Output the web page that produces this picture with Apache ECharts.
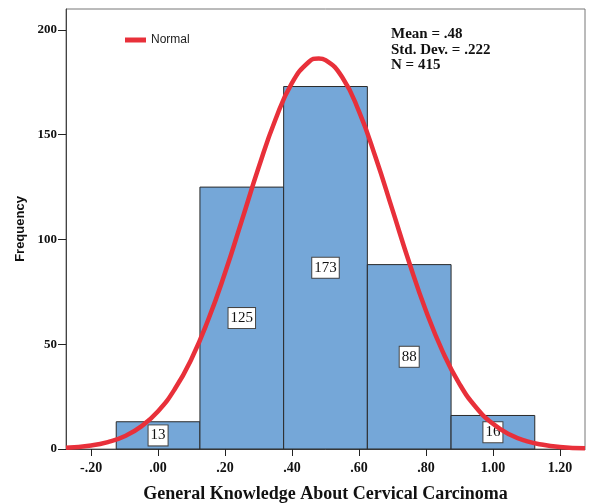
<!DOCTYPE html>
<html><head><meta charset="utf-8">
<script src="https://cdn.jsdelivr.net/npm/echarts@6/dist/echarts.min.js"></script>
<style>html,body{margin:0;padding:0;background:#fff}#c{width:589px;height:504px}</style>
</head><body><div id="c"></div>
<script>
// Histogram bins (left edge, right edge) and frequencies
const binStarts = [-0.125, 0.125, 0.375, 0.625, 0.875];
const binEnds   = [0.125, 0.375, 0.625, 0.875, 1.125];
const counts    = [13, 125, 173, 88, 16];
// Normal curve points
const curveX = [-0.275,-0.2,-0.15,-0.1,-0.05,0,0.05,0.1,0.15,0.2,0.25,0.3,0.35,0.4,0.45,0.48,0.5,0.55,0.6,0.65,0.7,0.75,0.8,0.85,0.9,0.95,1.0,1.05,1.1,1.15,1.2,1.275];
const curveY = [0.6,1.7,3.3,6.1,10.8,18.0,28.6,43.1,61.8,84.1,109.0,134.2,157.0,174.7,184.7,186.4,185.6,177.4,161.1,139.0,114.1,89.0,66.0,46.5,31.1,19.8,12.0,6.9,3.8,2.0,1.0,0.3];
const xTicks = [-0.2, 0, 0.2, 0.4, 0.6, 0.8, 1.0, 1.2];
const yTicks = [0, 50, 100, 150, 200];
const statLines = ['Mean = .48', 'Std. Dev. = .222', 'N = 415'];

const fmt = v => { let s = Math.abs(v).toFixed(2); if (s.startsWith('0.')) s = s.slice(1); return (v < 0 ? '-' : '') + s; };
const serif = '"Liberation Serif", "Times New Roman", serif';
const sans = '"Liberation Sans", Arial, sans-serif';

const chart = echarts.init(document.getElementById('c'));
chart.setOption({
  animation: false,
  grid: { left: 66, top: 9, right: 4, bottom: 55, show: true, borderColor: '#777', borderWidth: 1, backgroundColor: '#fff', containLabel: false, outerBoundsMode: 'none' },
  legend: {
    data: ['Normal'], left: 120, top: 29, icon: 'rect', itemWidth: 21, itemHeight: 5, itemGap: 4,
    textStyle: { fontFamily: sans, fontSize: 12, color: '#222' }
  },
  xAxis: {
    type: 'value', min: -0.275, max: 1.275,
    name: 'General Knowledge About Cervical Carcinoma', nameLocation: 'middle', nameGap: 36,
    nameTextStyle: { fontFamily: serif, fontWeight: 'bold', fontSize: 18, color: '#111' },
    axisLine: { show: true, onZero: false, lineStyle: { color: '#444', width: 1 } },
    axisTick: { show: true, customValues: xTicks, length: 7, lineStyle: { color: '#222' } },
    axisLabel: { customValues: xTicks, formatter: fmt, fontFamily: serif, fontWeight: 'bold', fontSize: 14, color: '#111', margin: 12 },
    splitLine: { show: false }
  },
  yAxis: {
    type: 'value', min: 0, max: 210,
    name: 'Frequency', nameLocation: 'middle', nameGap: 38,
    nameTextStyle: { fontFamily: sans, fontWeight: 'bold', fontSize: 13, color: '#111' },
    axisLine: { show: true, onZero: false, lineStyle: { color: '#444', width: 1 } },
    axisTick: { show: true, customValues: yTicks, length: 8, lineStyle: { color: '#222' } },
    axisLabel: { customValues: yTicks, fontFamily: serif, fontWeight: 'bold', fontSize: 13, color: '#111', margin: 9 },
    splitLine: { show: false }
  },
  graphic: statLines.map((t, i) => ({
    type: 'text', left: 391, top: 27 + i * 15.5,
    style: { text: t, font: 'bold 15px ' + serif, fill: '#111' }
  })),
  series: [
    {
      type: 'custom', name: 'Histogram',
      data: counts.map((c, i) => [binStarts[i], binEnds[i], c]),
      renderItem: (params, api) => {
        const p0 = api.coord([api.value(0), 0]);
        const p1 = api.coord([api.value(1), api.value(2)]);
        return {
          type: 'rect',
          shape: { x: p0[0], y: p1[1], width: p1[0] - p0[0], height: p0[1] - p1[1] },
          style: { fill: '#75a7d8', stroke: '#2a2a2a', lineWidth: 1 },
          textContent: {
            style: { text: String(api.value(2)), font: '15px ' + serif, fill: '#111',
              backgroundColor: '#fff', borderColor: '#444', borderWidth: 1, padding: [3, 2, 2, 2] }
          },
          textConfig: { position: 'inside' }
        };
      },
      z: 1
    },
    {
      type: 'line', name: 'Normal', smooth: true, showSymbol: false, symbol: 'none',
      data: curveX.map((x, i) => [x, curveY[i]]),
      lineStyle: { color: '#e8303a', width: 4.5 }, itemStyle: { color: '#e8303a' }, z: 5
    }
  ]
});
</script></body></html>
